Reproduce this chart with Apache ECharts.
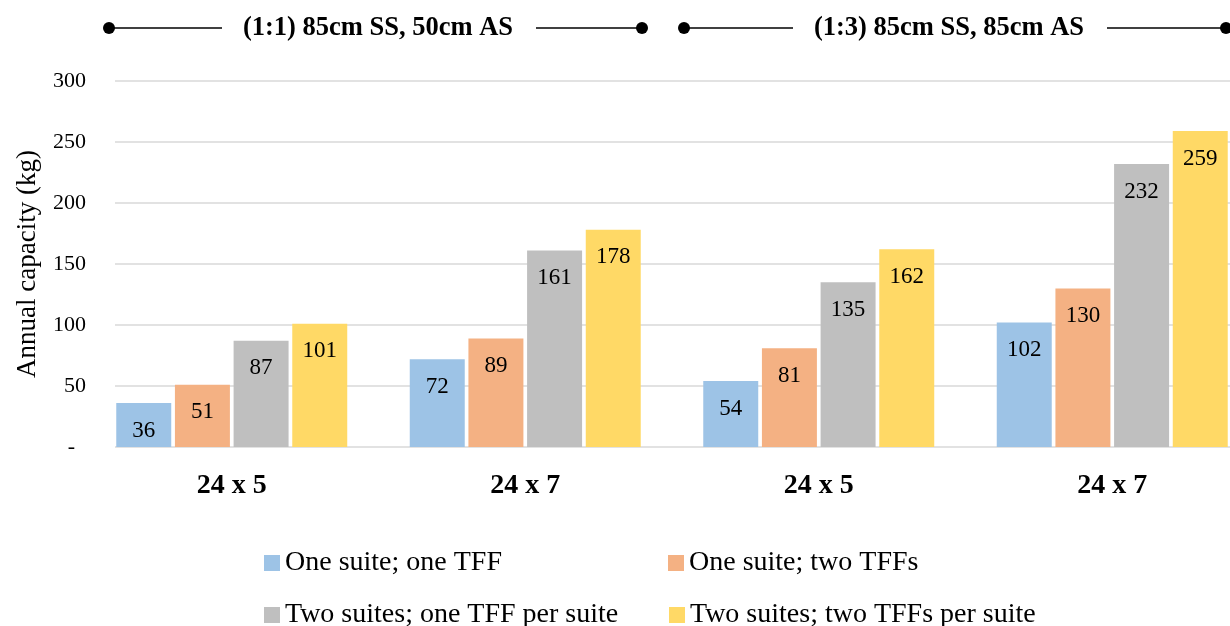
<!DOCTYPE html>
<html>
<head>
<meta charset="utf-8">
<style>
  html, body { margin: 0; padding: 0; background: #ffffff; overflow: hidden; }
  /* the plot runs past the right edge of the page and is cut there */
  #chart { width: 1262px; height: 626px; }
</style>
<script src="https://cdn.jsdelivr.net/npm/echarts@6/dist/echarts.min.js"></script>
</head>
<body>
<div id="chart"></div>
<script>
// Operating schedules (hours x days), two per configuration
const categories = ['24 x 5', '24 x 7', '24 x 5', '24 x 7'];

// Configuration headers shown above each pair of schedules
const configHeaders = ['(1:1) 85cm SS, 50cm AS', '(1:3) 85cm SS, 85cm AS'];

// Series names
const seriesNames = [
  'One suite; one TFF',
  'One suite; two TFFs',
  'Two suites; one TFF per suite',
  'Two suites; two TFFs per suite'
];

// Annual capacity (kg)
const oneSuiteOneTff = [36, 72, 54, 102];
const oneSuiteTwoTffs = [51, 89, 81, 130];
const twoSuitesOneTff = [87, 161, 135, 232];
const twoSuitesTwoTffs = [101, 178, 162, 259];

// Value axis range
const yMin = 0;
const yMax = 300;
const yStep = 50;

const seriesValues = [oneSuiteOneTff, oneSuiteTwoTffs, twoSuitesOneTff, twoSuitesTwoTffs];
const colors = ['#9DC3E6', '#F4B183', '#BFBFBF', '#FFD966'];
const FONT = "'Liberation Serif', 'Times New Roman', serif";

const chart = echarts.init(document.getElementById('chart'), null, { renderer: 'canvas' });

const plotTop = 81;
const plotHeight = 366;

// Header bracket: dot — line — text — line — dot
function bracket(x1, x2, textX, y, text) {
  const halfText = 136;
  const lineStyle = { stroke: '#000', lineWidth: 1.5 };
  return [
    { type: 'line', shape: { x1: x1, y1: y, x2: textX - halfText - 20, y2: y }, style: lineStyle },
    { type: 'line', shape: { x1: textX + halfText + 22, y1: y, x2: x2, y2: y }, style: lineStyle },
    { type: 'circle', shape: { cx: x1, cy: y, r: 6 }, style: { fill: '#000' } },
    { type: 'circle', shape: { cx: x2, cy: y, r: 6 }, style: { fill: '#000' } },
    {
      type: 'text',
      x: textX, y: y,
      style: {
        text: text, fill: '#000',
        font: 'bold 26.5px ' + FONT,
        align: 'center', verticalAlign: 'middle'
      }
    }
  ];
}

function legendAt(name, left, top) {
  return {
    data: [name],
    left: left, top: top,
    icon: 'rect',
    itemWidth: 16, itemHeight: 16,
    selectedMode: false,
    padding: 0,
    textStyle: { fontFamily: FONT, fontSize: 28, color: '#000' }
  };
}

const option = {
  animation: false,
  backgroundColor: '#ffffff',
  textStyle: { fontFamily: FONT },
  grid: [
    // bars
    { left: 85, width: 1174, top: plotTop, height: plotHeight, containLabel: false },
    // value axis and gridlines
    { left: 115, width: 1147, top: plotTop, height: plotHeight, containLabel: false }
  ],
  xAxis: [
    {
      type: 'category',
      gridIndex: 0,
      data: categories,
      axisLine: { show: false },
      axisTick: { show: false },
      axisLabel: {
        fontFamily: FONT, fontSize: 28, fontWeight: 'bold', color: '#000',
        margin: 25
      }
    },
    { type: 'value', gridIndex: 1, show: false }
  ],
  yAxis: [
    { type: 'value', gridIndex: 0, min: yMin, max: yMax, interval: yStep, show: false },
    {
      type: 'value',
      gridIndex: 1,
      min: yMin, max: yMax, interval: yStep,
      name: 'Annual capacity (kg)',
      nameLocation: 'middle',
      nameGap: 74,
      nameTextStyle: { fontFamily: FONT, fontSize: 27, color: '#000' },
      axisLine: { show: false },
      axisTick: { show: false },
      splitLine: { lineStyle: { color: '#d9d9d9', width: 1.5 } },
      axisLabel: {
        fontFamily: FONT, fontSize: 22, color: '#000', margin: 29,
        formatter: function (v) { return v === 0 ? '-  ' : String(v); }
      }
    }
  ],
  legend: [
    legendAt(seriesNames[0], 264, 549),
    legendAt(seriesNames[1], 668, 549),
    legendAt(seriesNames[2], 264, 601),
    legendAt(seriesNames[3], 669, 601)
  ],
  series: seriesNames.map(function (name, i) {
    return {
      name: name,
      type: 'bar',
      xAxisIndex: 0,
      yAxisIndex: 0,
      data: seriesValues[i],
      itemStyle: { color: colors[i] },
      barGap: '6.7%',
      barCategoryGap: '21.3%',
      label: {
        show: true,
        position: 'insideTop',
        distance: 16,
        fontFamily: FONT,
        fontSize: 23,
        color: '#000'
      }
    };
  }),
  graphic: [].concat(
    bracket(109, 642, 378, 28, configHeaders[0]),
    bracket(684, 1226, 949, 28, configHeaders[1])
  )
};

chart.setOption(option);
</script>
</body>
</html>
